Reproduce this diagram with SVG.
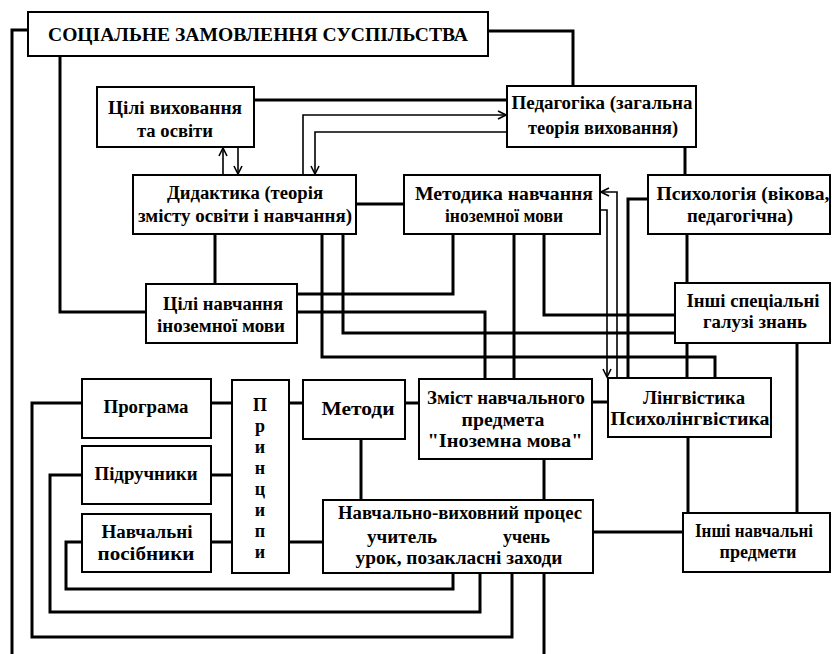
<svg xmlns="http://www.w3.org/2000/svg" width="832" height="654" viewBox="0 0 832 654">
<style>
.box{fill:#fff;stroke:#000;stroke-width:2}
.ln{fill:none;stroke:#000;stroke-width:3}
.th{fill:none;stroke:#000;stroke-width:1.6}
text{font-family:"Liberation Serif","DejaVu Serif",serif;font-weight:bold;font-size:18px;text-anchor:middle;fill:#000}
.ttl{font-size:19px}
.st{text-anchor:start}
</style>
<defs>
<marker id="ar" viewBox="0 0 10 10" refX="9" refY="5" markerWidth="10" markerHeight="10" markerUnits="userSpaceOnUse" orient="auto">
<path d="M1,1 L9,5 L1,9" fill="none" stroke="#000" stroke-width="1.6"/>
</marker>
</defs>
<rect width="832" height="654" fill="#fff"/>
<g id="connectors">
<path class="ln" d="M28,30 H12 V654"/>
<path class="ln" d="M488,31 H573 V86"/>
<path class="ln" d="M60,56 V312 H146"/>
<path class="ln" d="M254,100 H507"/>
<path class="th" d="M303,175 V115 H506" marker-end="url(#ar)"/>
<path class="th" d="M507,132 H315 V174" marker-end="url(#ar)"/>
<path class="th" d="M223,175 V148" marker-end="url(#ar)"/>
<path class="th" d="M238,147 V174" marker-end="url(#ar)"/>
<path class="ln" d="M356,204 H404"/>
<path class="ln" d="M685,147 V175"/>
<path class="ln" d="M215,234 V284"/>
<path class="ln" d="M297,294 H453 V234"/>
<path class="ln" d="M297,312 H485 V379"/>
<path class="ln" d="M322,234 V357 H715 V378"/>
<path class="ln" d="M343,234 V333 H675"/>
<path class="ln" d="M514,234 V379"/>
<path class="ln" d="M544,234 V315 H675"/>
<path class="th" d="M600,210 H607 V377" marker-end="url(#ar)"/>
<path class="th" d="M617,378 V192 H601" marker-end="url(#ar)"/>
<path class="ln" d="M648,199 H628 V378"/>
<path class="ln" d="M687,234 V283"/>
<path class="ln" d="M687,343 V378"/>
<path class="ln" d="M797,343 V513"/>
<path class="ln" d="M592,402 H608"/>
<path class="ln" d="M688,437 V513"/>
<path class="ln" d="M593,532 H683"/>
<path class="ln" d="M544,459 V500"/>
<path class="ln" d="M211,403 H232"/>
<path class="ln" d="M289,403 H303"/>
<path class="ln" d="M405,403 H419"/>
<path class="ln" d="M211,475 H232"/>
<path class="ln" d="M211,542 H232"/>
<path class="ln" d="M289,542 H323"/>
<path class="ln" d="M361,439 V500"/>
<path class="ln" d="M82,403 H32 V637 H512 V573"/>
<path class="ln" d="M82,475 H50 V612 H480 V573"/>
<path class="ln" d="M82,542 H66 V589 H453 V573"/>
<path class="ln" d="M544,573 V654"/>
</g>
<g id="social">
<rect class="box" x="28" y="12" width="460" height="44"/>
<text class="ttl" x="258" y="41" textLength="420" lengthAdjust="spacingAndGlyphs">СОЦІАЛЬНЕ ЗАМОВЛЕННЯ СУСПІЛЬСТВА</text>
</g>
<g id="goals-upbringing">
<rect class="box" x="97" y="87" width="157" height="60"/>
<text x="175" y="114" textLength="134" lengthAdjust="spacingAndGlyphs">Цілі виховання</text>
<text x="175" y="137" textLength="76" lengthAdjust="spacingAndGlyphs">та освіти</text>
</g>
<g id="pedagogy">
<rect class="box" x="507" y="86" width="189" height="61"/>
<text x="602" y="109" textLength="181" lengthAdjust="spacingAndGlyphs">Педагогіка (загальна</text>
<text x="603" y="134" textLength="150" lengthAdjust="spacingAndGlyphs">теорія виховання)</text>
</g>
<g id="didactics">
<rect class="box" x="133" y="175" width="223" height="59"/>
<text x="245" y="199" textLength="156" lengthAdjust="spacingAndGlyphs">Дидактика (теорія</text>
<text x="245" y="222" textLength="214" lengthAdjust="spacingAndGlyphs">змісту освіти і навчання)</text>
</g>
<g id="methodology">
<rect class="box" x="404" y="175" width="196" height="59"/>
<text x="504" y="200" textLength="178" lengthAdjust="spacingAndGlyphs">Методика навчання</text>
<text x="504" y="222" textLength="118" lengthAdjust="spacingAndGlyphs">іноземної мови</text>
</g>
<g id="psychology">
<rect class="box" x="648" y="175" width="182" height="59"/>
<text x="743" y="200" textLength="173" lengthAdjust="spacingAndGlyphs">Психологія (вікова,</text>
<text x="740" y="222" textLength="106" lengthAdjust="spacingAndGlyphs">педагогічна)</text>
</g>
<g id="goals-learning">
<rect class="box" x="146" y="284" width="151" height="59"/>
<text x="223" y="310" textLength="120" lengthAdjust="spacingAndGlyphs">Цілі навчання</text>
<text x="221" y="332" textLength="128" lengthAdjust="spacingAndGlyphs">іноземної мови</text>
</g>
<g id="other-fields">
<rect class="box" x="675" y="283" width="155" height="60"/>
<text x="753" y="307" textLength="133" lengthAdjust="spacingAndGlyphs">Інші спеціальні</text>
<text x="755" y="328" textLength="104" lengthAdjust="spacingAndGlyphs">галузі знань</text>
</g>
<g id="programme">
<rect class="box" x="82" y="379" width="129" height="59"/>
<text x="146" y="413" textLength="85" lengthAdjust="spacingAndGlyphs">Програма</text>
</g>
<g id="textbooks">
<rect class="box" x="82" y="446" width="129" height="58"/>
<text x="146" y="480" textLength="103" lengthAdjust="spacingAndGlyphs">Підручники</text>
</g>
<g id="manuals">
<rect class="box" x="82" y="514" width="129" height="58"/>
<text x="147" y="538" textLength="91" lengthAdjust="spacingAndGlyphs">Навчальні</text>
<text x="146" y="560" textLength="97" lengthAdjust="spacingAndGlyphs">посібники</text>
</g>
<g id="principles">
<rect class="box" x="232" y="380" width="57" height="193"/>
<text x="260" y="411">П</text>
<text x="260" y="432">р</text>
<text x="260" y="453">и</text>
<text x="260" y="474">н</text>
<text x="260" y="495">ц</text>
<text x="260" y="516">и</text>
<text x="260" y="537">п</text>
<text x="260" y="558">и</text>
</g>
<g id="methods">
<rect class="box" x="303" y="380" width="102" height="59"/>
<text x="358" y="415" textLength="73" lengthAdjust="spacingAndGlyphs">Методи</text>
</g>
<g id="content">
<rect class="box" x="419" y="379" width="173" height="80"/>
<text x="506" y="404" textLength="158" lengthAdjust="spacingAndGlyphs">Зміст навчального</text>
<text x="503" y="426" textLength="83" lengthAdjust="spacingAndGlyphs">предмета</text>
<text x="505" y="447" textLength="155" lengthAdjust="spacingAndGlyphs">"Іноземна мова"</text>
</g>
<g id="linguistics">
<rect class="box" x="608" y="378" width="163" height="59"/>
<text x="694" y="404" textLength="102" lengthAdjust="spacingAndGlyphs">Лінгвістика</text>
<text x="690" y="425" textLength="159" lengthAdjust="spacingAndGlyphs">Психолінгвістика</text>
</g>
<g id="process">
<rect class="box" x="323" y="500" width="270" height="73"/>
<text x="460" y="519" textLength="244" lengthAdjust="spacingAndGlyphs">Навчально-виховний процес</text>
<text class="st" x="367" y="543" textLength="70" lengthAdjust="spacingAndGlyphs">учитель</text>
<text class="st" x="503" y="543" textLength="47" lengthAdjust="spacingAndGlyphs">учень</text>
<text x="459" y="564" textLength="207" lengthAdjust="spacingAndGlyphs">урок, позакласні заходи</text>
</g>
<g id="other-subjects">
<rect class="box" x="683" y="513" width="147" height="59"/>
<text x="754" y="537" textLength="118" lengthAdjust="spacingAndGlyphs">Інші навчальні</text>
<text x="758" y="558" textLength="77" lengthAdjust="spacingAndGlyphs">предмети</text>
</g>
</svg>
